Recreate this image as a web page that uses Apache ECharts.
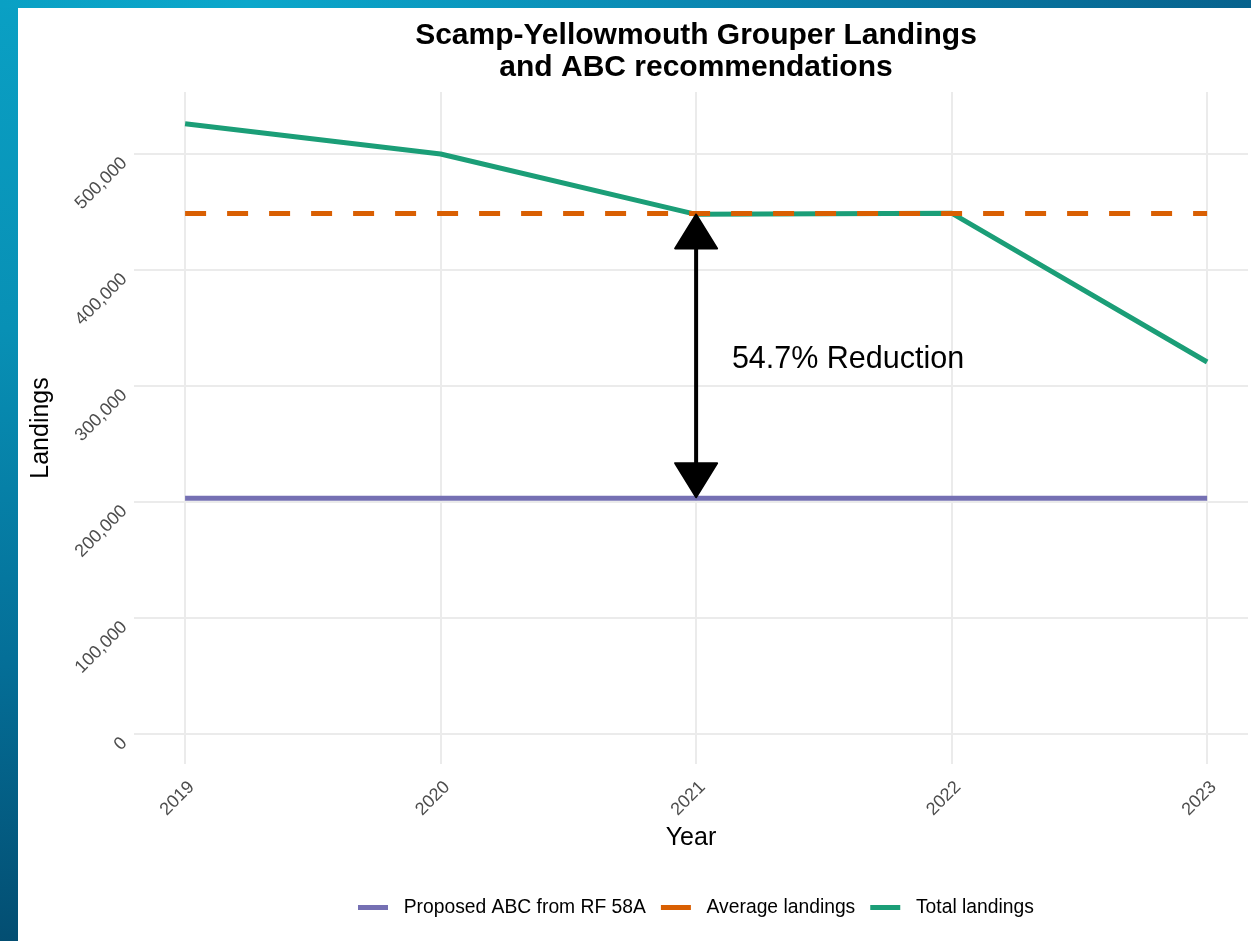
<!DOCTYPE html>
<html>
<head>
<meta charset="utf-8">
<script src="https://cdn.jsdelivr.net/npm/echarts@6/dist/echarts.min.js"></script>
<style>
  html, body { margin: 0; padding: 0; width: 1251px; height: 941px; overflow: hidden; background: #0a6f9a; }
  #leftbar { position: absolute; left: 0; top: 0; width: 18px; height: 941px;
    background: linear-gradient(180deg, #0aa0c4 0%, #0890b5 35%, #046f98 70%, #034e72 100%); }
  #topbar { position: absolute; left: 0; top: 0; width: 1251px; height: 8px;
    background: linear-gradient(90deg, #0aa0c4 0%, #0ba7cb 20%, #0a88b2 55%, #07628d 100%); }
  #panel { position: absolute; left: 18px; top: 8px; width: 1233px; height: 933px; background: #ffffff; }
  #chart { position: absolute; left: 0; top: 0; width: 1251px; height: 941px; }
</style>
</head>
<body>
<div id="leftbar"></div>
<div id="topbar"></div>
<div id="panel"></div>
<div id="chart"></div>
<script>
// ---- data ----
const years = [2019, 2020, 2021, 2022, 2023];
const totalLandings = [526000, 500000, 448000, 449000, 320700];
const averageLandings = 448740;
const proposedABC = 203300;
const reductionLabel = '54.7% Reduction';
const seriesNames = ['Proposed ABC from RF 58A', 'Average landings', 'Total landings'];
const titleLines = ['Scamp-Yellowmouth Grouper Landings', 'and ABC recommendations'];
const arrowYear = 2021;
const labelAnchor = [2021.14, 323000];

const colors = { abc: '#7570B3', avg: '#D95F02', total: '#1B9E77' };
const font = '"Liberation Sans", Arial, sans-serif';

const chart = echarts.init(document.getElementById('chart'), null, { renderer: 'canvas' });

const firstYear = years[0], lastYear = years[years.length - 1];

const option = {
  backgroundColor: 'transparent',
  animation: false,
  textStyle: { fontFamily: font },
  title: {
    text: titleLines.join('\n'),
    left: 696,
    top: 20,
    padding: 0,
    textAlign: 'center',
    textStyle: { fontFamily: font, fontSize: 30, fontWeight: 'bold', color: '#000', lineHeight: 32 }
  },
  legend: {
    left: 358,
    top: 898,
    padding: 0,
    itemWidth: 30,
    itemHeight: 5,
    itemGap: 15,
    formatter: function (n) { return '  ' + n; },
    textStyle: { fontFamily: font, fontSize: 19.3, color: '#000' },
    data: [
      { name: seriesNames[0], icon: 'rect', itemStyle: { color: colors.abc } },
      { name: seriesNames[1], icon: 'rect', itemStyle: { color: colors.avg } },
      { name: seriesNames[2], icon: 'rect', itemStyle: { color: colors.total } }
    ]
  },
  grid: { left: 134, right: 3, top: 92, bottom: 177, containLabel: false },
  xAxis: {
    type: 'value',
    min: 2018.8,
    max: 2023.16,
    minInterval: 1,
    maxInterval: 1,
    name: 'Year',
    nameLocation: 'middle',
    nameGap: 60,
    nameTextStyle: { fontFamily: font, fontSize: 25, color: '#000' },
    axisLine: { show: false },
    axisTick: { show: false },
    axisLabel: {
      rotate: 45, margin: 14, fontSize: 18, color: '#4d4d4d', fontFamily: font,
      verticalAlign: 'top',
      showMinLabel: false, showMaxLabel: false,
      formatter: function (v) { return Number.isInteger(v) ? String(v) : ''; }
    },
    splitLine: { show: true, showMinLine: false, showMaxLine: false, lineStyle: { color: '#ebebeb', width: 2 } }
  },
  yAxis: {
    type: 'value',
    min: -25862,
    max: 553448,
    minInterval: 100000,
    maxInterval: 100000,
    name: 'Landings',
    nameLocation: 'middle',
    nameRotate: 90,
    nameGap: 80,
    nameTextStyle: { fontFamily: font, fontSize: 25, color: '#000' },
    axisLine: { show: false },
    axisTick: { show: false },
    axisLabel: {
      rotate: 45, margin: 16, fontSize: 18, color: '#4d4d4d', fontFamily: font,
      verticalAlign: 'top',
      showMinLabel: false, showMaxLabel: false,
      formatter: function (v) { return (v % 100000 === 0) ? v.toLocaleString('en-US') : ''; }
    },
    splitLine: { show: true, showMinLine: false, showMaxLine: false, lineStyle: { color: '#ebebeb', width: 2 } }
  },
  series: [
    {
      name: seriesNames[0], type: 'line', showSymbol: false, symbol: 'none', z: 2,
      data: [[firstYear, proposedABC], [lastYear, proposedABC]],
      lineStyle: { color: colors.abc, width: 5 }, itemStyle: { color: colors.abc }
    },
    {
      name: seriesNames[2], type: 'line', showSymbol: false, symbol: 'none', z: 3,
      data: years.map(function (y, i) { return [y, totalLandings[i]]; }),
      lineStyle: { color: colors.total, width: 5 }, itemStyle: { color: colors.total }
    },
    {
      name: seriesNames[1], type: 'line', showSymbol: false, symbol: 'none', z: 4,
      data: [[firstYear, averageLandings], [lastYear, averageLandings]],
      lineStyle: { color: colors.avg, width: 5, type: [21, 21] }, itemStyle: { color: colors.avg }
    },
    {
      type: 'custom', z: 10, clip: false, silent: true,
      data: [[arrowYear, averageLandings, proposedABC]],
      renderItem: function (params, api) {
        const top = api.coord([api.value(0), api.value(1)]);
        const bot = api.coord([api.value(0), api.value(2)]);
        const lab = api.coord(labelAnchor);
        const hw = 21, hh = 35;
        const x = top[0];
        return {
          type: 'group',
          children: [
            { type: 'line', shape: { x1: x, y1: top[1] + hh - 2, x2: x, y2: bot[1] - hh + 2 },
              style: { stroke: '#000', lineWidth: 4 } },
            { type: 'polygon', shape: { points: [[x, top[1] + 1], [x - hw, top[1] + hh], [x + hw, top[1] + hh]] },
              style: { fill: '#000', stroke: '#000', lineWidth: 2, lineJoin: 'round' } },
            { type: 'polygon', shape: { points: [[x, bot[1] - 1], [x - hw, bot[1] - hh], [x + hw, bot[1] - hh]] },
              style: { fill: '#000', stroke: '#000', lineWidth: 2, lineJoin: 'round' } },
            { type: 'text', x: lab[0], y: lab[1],
              style: { text: reductionLabel, fill: '#000', font: '30.5px ' + font, textAlign: 'left', textVerticalAlign: 'middle' } }
          ]
        };
      }
    }
  ]
};
chart.setOption(option);
</script>
</body>
</html>
